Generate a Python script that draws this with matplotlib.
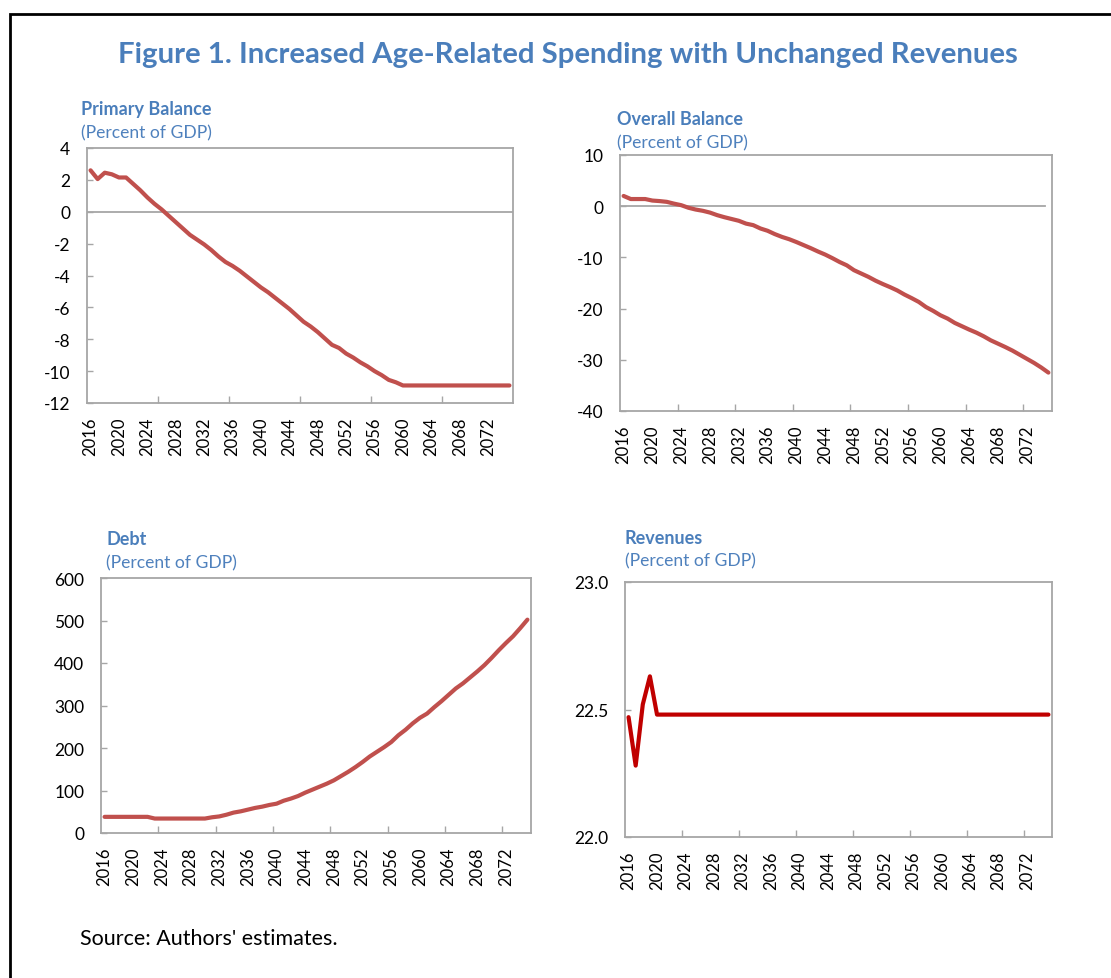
import matplotlib
matplotlib.use('Agg')
import matplotlib.pyplot as plt
from matplotlib.patches import Rectangle

# ---------------- data ----------------
years = list(range(2016, 2076))

primary_balance = [2.6, 2.05, 2.45, 2.35, 2.15, 2.15, 1.75, 1.35, 0.9, 0.5,
                   0.15, -0.25, -0.65, -1.05, -1.45, -1.75, -2.05, -2.4, -2.8, -3.15,
                   -3.4, -3.7, -4.05, -4.4, -4.75, -5.05, -5.4, -5.75, -6.1, -6.5,
                   -6.9, -7.2, -7.55, -7.95, -8.35, -8.55, -8.9, -9.15, -9.45, -9.7,
                   -10.0, -10.25, -10.55, -10.7, -10.9, -10.9, -10.9, -10.9, -10.9, -10.9,
                   -10.9, -10.9, -10.9, -10.9, -10.9, -10.9, -10.9, -10.9, -10.9, -10.9]

overall_balance = [2.0, 1.4, 1.4, 1.4, 1.1, 1.0, 0.85, 0.5, 0.2, -0.3,
                   -0.65, -0.9, -1.25, -1.75, -2.15, -2.5, -2.85, -3.4, -3.7, -4.35,
                   -4.8, -5.45, -6.0, -6.45, -7.0, -7.6, -8.2, -8.85, -9.45, -10.15,
                   -10.9, -11.55, -12.5, -13.15, -13.8, -14.55, -15.2, -15.8, -16.45, -17.25,
                   -17.95, -18.7, -19.7, -20.45, -21.3, -21.95, -22.8, -23.45, -24.1, -24.7,
                   -25.4, -26.2, -26.85, -27.5, -28.2, -29.0, -29.8, -30.6, -31.5, -32.5]

debt = [38, 38, 38, 38, 38, 38, 38, 34, 34, 34,
        34, 34, 34, 34, 34, 37, 39, 43, 48, 51,
        55, 59, 62, 66, 69, 76, 81, 87, 95, 102,
        109, 116, 124, 134, 144, 155, 167, 180, 191, 202,
        214, 230, 243, 258, 271, 281, 296, 310, 325, 340,
        352, 366, 380, 395, 412, 430, 447, 463, 482, 502]

revenues = [22.47, 22.28, 22.52, 22.63] + [22.48] * 56

label_years = list(range(2016, 2076, 4))[:15]   # 2016 ... 2072

pb_ticks = [-12, -10, -8, -6, -4, -2, 0, 2, 4]
ob_ticks = [-40, -30, -20, -10, 0, 10]
debt_ticks = [0, 100, 200, 300, 400, 500, 600]
rev_ticks = [22.0, 22.5, 23.0]

title = "Figure 1. Increased Age-Related Spending with Unchanged Revenues"
source = "Source: Authors' estimates."

# ---------------- style ----------------
W, H = 1111, 979
BLUE = '#4A7EBB'
BLUE2 = '#4F81BD'
LINE = '#C0504D'
LINE2 = '#C00000'
FRAME = '#A6A6A6'

plt.rcParams['font.family'] = ['Lato', 'DejaVu Sans']

fig = plt.figure(figsize=(W / 100, H / 100), dpi=100)
fig.patch.set_facecolor('white')

# outer border (left & top visible, rest outside the image)
fig.patches.append(Rectangle((10 / W, -0.2), 1.5, 1.2 - 15 / H, transform=fig.transFigure,
                             fill=False, edgecolor='black', lw=2.0))


def px_axes(l, t, r, b):
    return fig.add_axes([l / W, 1 - b / H, (r - l) / W, (b - t) / H])


def make_panel(ax, values, color, ylim, yticks, ylabels, every, zero=False, zero_xmax=1.0):
    ax.plot(years, values, color=color, lw=3.0, solid_capstyle='round', solid_joinstyle='round',
            zorder=3)
    ax.set_xlim(2015.5, 2075.5)
    ax.set_ylim(*ylim)
    for s in ax.spines.values():
        s.set_color(FRAME)
        s.set_linewidth(1.3)
    if zero:
        ax.axhline(0, xmin=0, xmax=zero_xmax, color=FRAME, lw=1.3, zorder=2)
    ax.set_yticks(yticks)
    ax.set_yticklabels(ylabels)
    ax.tick_params(axis='y', direction='in', length=4, width=1, color=FRAME,
                   labelsize=12.5, pad=12, labelcolor='black')
    marks = [2015.5 + every * k for k in range(1, 10) if 2015.5 + every * k < 2075.5]
    ax.set_xticks(marks)
    ax.set_xticklabels([''] * len(marks))
    ax.tick_params(axis='x', which='major', direction='in', length=5, width=1, color=FRAME)
    ax.set_xticks(label_years, minor=True)
    ax.set_xticklabels([str(y) for y in label_years], minor=True, rotation=90)
    ax.tick_params(axis='x', which='minor', length=0, labelsize=12, pad=10,
                   labelcolor='black')


ax1 = px_axes(87, 149, 513, 404)
make_panel(ax1, primary_balance, LINE, (-12, 4), pb_ticks, [str(t) for t in pb_ticks], 10,
           zero=True)

ax2 = px_axes(620, 156, 1052, 412)
make_panel(ax2, overall_balance, LINE, (-40, 10), ob_ticks, [str(t) for t in ob_ticks], 8,
           zero=True, zero_xmax=0.984)

ax3 = px_axes(101, 579, 531, 834)
make_panel(ax3, debt, LINE, (0, 600), debt_ticks, [str(t) for t in debt_ticks], 8)

ax4 = px_axes(625, 583, 1052, 838)
make_panel(ax4, revenues, LINE2, (22.0, 23.0), rev_ticks, [f"{t:.1f}" for t in rev_ticks], 8)


def ftext(x, y, s, **kw):
    fig.text(x / W, 1 - y / H, s, **kw)


ftext(568, 55, title, ha='center', va='center', fontsize=21.2, fontweight='bold', color=BLUE)

panel_titles = [("Primary Balance", 81, 115, 138),
                ("Overall Balance", 617, 125, 148),
                ("Debt", 106, 545, 568),
                ("Revenues", 625, 544, 566)]
for name, x, yb, ys in panel_titles:
    ftext(x, yb, name, ha='left', va='baseline', fontsize=13, fontweight='bold', color=BLUE)
    ftext(x, ys, "(Percent of GDP)", ha='left', va='baseline', fontsize=12.6, color=BLUE2)

ftext(80, 939, source, ha='left', va='center', fontsize=15.5, color='black')

fig.savefig('out.png', dpi=100, facecolor='white')
